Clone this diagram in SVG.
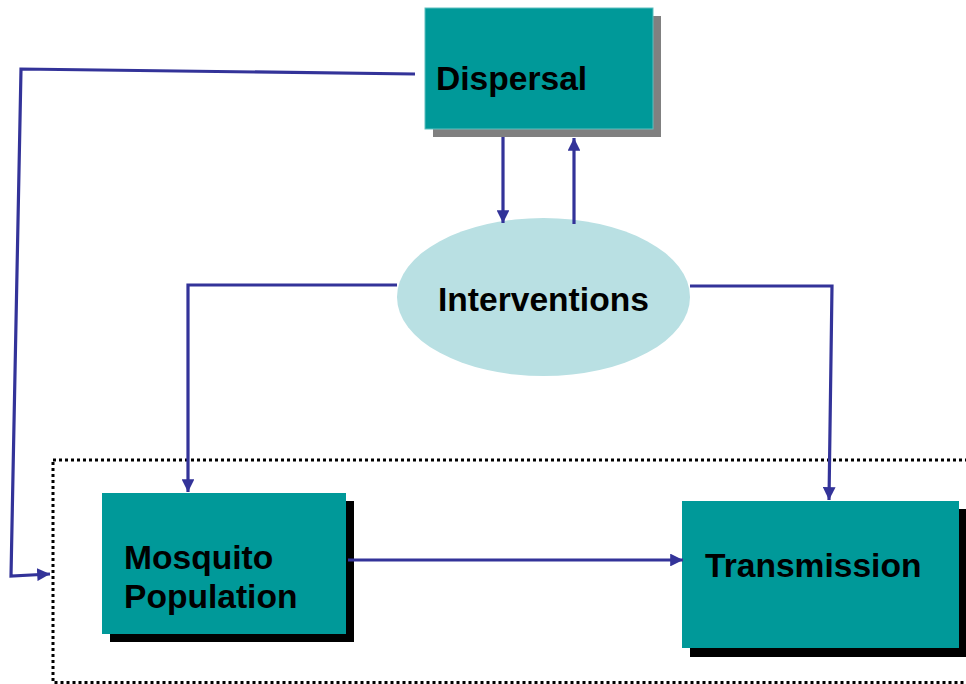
<svg xmlns="http://www.w3.org/2000/svg" width="966" height="684" viewBox="0 0 966 684">
<style>
.box{fill:#009999}
.lbl{font-family:"Liberation Sans",Arial,sans-serif;font-weight:bold;font-size:33.6px;fill:#000}
.con{fill:none;stroke:#333399;stroke-width:3.2}
</style>
<defs>
<marker id="ah" viewBox="0 0 10 10" refX="10" refY="5" markerWidth="4" markerHeight="4" markerUnits="strokeWidth" orient="auto">
<path d="M0,0 L10,5 L0,10 z" fill="#333399"/>
</marker>
</defs>
<rect width="966" height="684" fill="#fff"/>
<rect x="53" y="460" width="920" height="222.5" fill="none" stroke="#000" stroke-width="3" stroke-dasharray="3,3"/>
<g id="dispersal">
<rect x="433" y="16" width="228" height="121" fill="#808080"/>
<rect class="box" x="425" y="8" width="228" height="121" stroke="#5fbfbf" stroke-width="1"/>
<text class="lbl" x="436" y="90">Dispersal</text>
</g>
<g id="interventions">
<ellipse cx="543.5" cy="297" rx="146.5" ry="79" fill="#b9e0e3"/>
<text class="lbl" x="438" y="311">Interventions</text>
</g>
<g id="mosquito">
<rect x="110" y="501" width="244" height="141" fill="#000"/>
<rect class="box" x="102" y="493" width="244" height="141"/>
<text class="lbl" x="124" y="569">Mosquito</text>
<text class="lbl" x="124" y="608">Population</text>
</g>
<g id="transmission">
<rect x="690" y="509" width="277" height="148" fill="#000"/>
<rect class="box" x="682" y="501" width="277" height="147"/>
<text class="lbl" x="705" y="577">Transmission</text>
</g>
<g id="connectors">
<path class="con" d="M503,137 L503,223" marker-end="url(#ah)"/>
<path class="con" d="M574,224 L574,138" marker-end="url(#ah)"/>
<path class="con" d="M397,285 L188,285 L188,492" marker-end="url(#ah)"/>
<path class="con" d="M690,286 L832,286 L829,500" marker-end="url(#ah)"/>
<path class="con" d="M348,560 L683,560" marker-end="url(#ah)"/>
<path class="con" d="M415,74 L21,69 L11,576 L50,574" marker-end="url(#ah)"/>
</g>
</svg>
